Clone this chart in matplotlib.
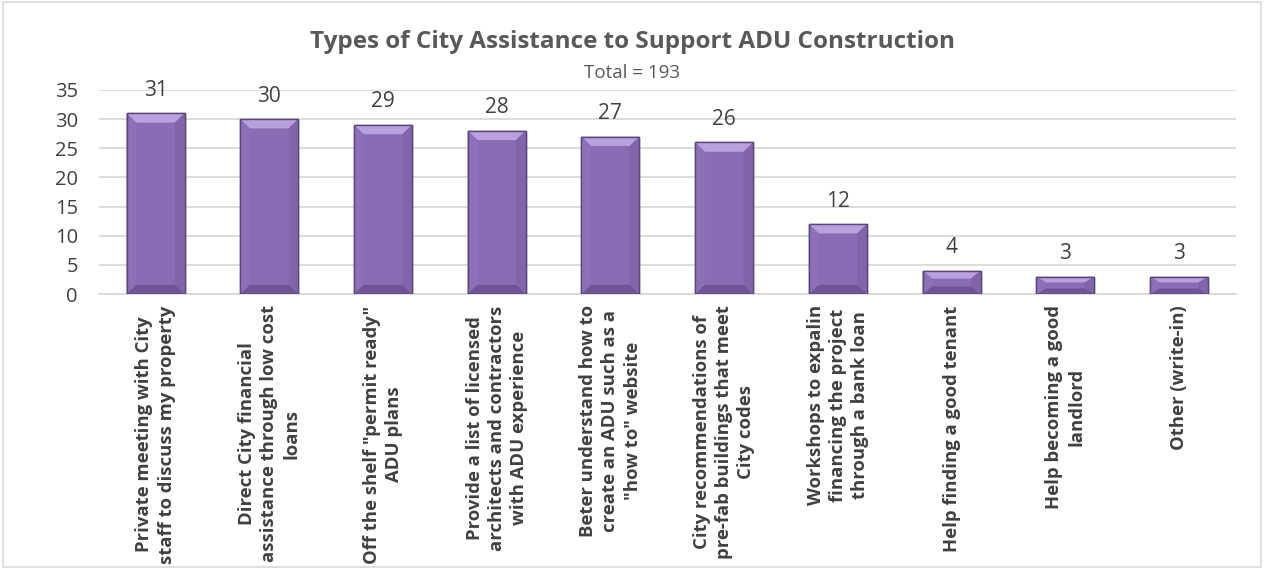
import numpy as np
import matplotlib.pyplot as plt
from matplotlib.patches import Polygon

plt.rcParams['font.family'] = ['Open Sans', 'DejaVu Sans']

# Survey answers
categories = [
    "Private meeting with City\nstaff to discuss my property",
    "Direct City financial\nassistance through low cost\nloans",
    'Off the shelf "permit ready"\nADU plans',
    "Provide a list of licensed\narchitects and contractors\nwith ADU experience",
    'Beter understand how to\ncreate an ADU such as a\n"how to" website',
    "City recommendations of\npre-fab buildings that meet\nCity codes",
    "Workshops to expalin\nfinancing the project\nthrough a bank loan",
    "Help finding a good tenant",
    "Help becoming a good\nlandlord",
    "Other (write-in)",
]
counts = [31, 30, 29, 28, 27, 26, 12, 4, 3, 3]
total = 193
yticks = [0, 5, 10, 15, 20, 25, 30, 35]

fig = plt.figure(figsize=(12.65, 5.69), dpi=100)
ax = fig.add_axes([0.078, 0.483, 0.899, 0.359])

x = np.arange(len(counts))
w = 0.51

# main bar body
bars = ax.bar(x, counts, width=w, color='#896cb4', edgecolor='#5a4678',
              linewidth=1.0, zorder=3)

# bevel facets: light top, slightly shaded sides, darker bottom
dx = 0.085   # bevel depth along x (data units)
dy = 1.6     # bevel depth along y (data units)
for b in bars:
    x0, x1 = b.get_x(), b.get_x() + b.get_width()
    top = b.get_height()
    d = min(dy, top / 3)
    facets = [
        ([(x0, top), (x1, top), (x1 - dx, top - d), (x0 + dx, top - d)], '#b9a1dd'),
        ([(x1, top), (x1, 0), (x1 - dx, d), (x1 - dx, top - d)], '#8165ab'),
        ([(x0, top), (x0, 0), (x0 + dx, d), (x0 + dx, top - d)], '#8d71b8'),
        ([(x0, 0), (x1, 0), (x1 - dx, d), (x0 + dx, d)], '#6f5497'),
    ]
    for pts, col in facets:
        ax.add_patch(Polygon(pts, closed=True, facecolor=col, edgecolor='none', zorder=4))
    ax.add_patch(plt.Rectangle((x0, 0), x1 - x0, top, fill=False,
                               edgecolor='#5a4678', linewidth=1.0, zorder=5))

for xi, c in zip(x, counts):
    ax.annotate(str(c), (xi, c), xytext=(0, 9), textcoords='offset points',
                ha='center', va='bottom', fontsize=15, color='#404040')

ax.set_xlim(-0.5, len(counts) - 0.5)
ax.set_ylim(0, 35)
ax.set_yticks(yticks)
ax.yaxis.grid(True, color='#d9d9d9', linewidth=1.3, zorder=0)
ax.set_axisbelow(True)
for s in ['top', 'right', 'left']:
    ax.spines[s].set_visible(False)
ax.spines['bottom'].set_color('#d9d9d9')
ax.spines['bottom'].set_linewidth(1.3)
ax.tick_params(axis='both', length=0)
ax.tick_params(axis='y', labelsize=14.5, labelcolor='#404040', pad=15)

ax.set_xticks(x)
ax.set_xticklabels(categories, rotation=90, ha='center', va='top',
                   multialignment='center', fontsize=13.3, fontweight='bold',
                   color='#404040', linespacing=1.3)
ax.tick_params(axis='x', pad=8)

fig.text(0.5, 0.926, "Types of City Assistance to Support ADU Construction",
         ha='center', va='center', fontsize=17.5, fontweight='bold', color='#595959')
fig.text(0.5, 0.871, f"Total = {total}", ha='center', va='center',
         fontsize=13.5, color='#595959')

# thin frame around the whole chart
fig.patches.append(plt.Rectangle((0.002, 0.003), 0.995, 0.993, transform=fig.transFigure,
                                 fill=False, edgecolor='#d9d9d9', linewidth=1.2))

fig.savefig('out.png', dpi=100, facecolor='white')
